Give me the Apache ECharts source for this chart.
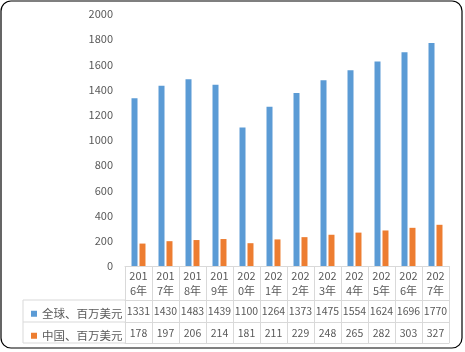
<!DOCTYPE html>
<html>
<head>
<meta charset="utf-8">
<script src="https://cdn.jsdelivr.net/npm/echarts@6/dist/echarts.min.js"></script>
<style>
  html, body { margin: 0; padding: 0; background: #fff; }
  #main { width: 465px; height: 352px; }
</style>
</head>
<body>
<div id="main"></div>
<script>
var years = ['2016年', '2017年', '2018年', '2019年', '2020年', '2021年',
             '2022年', '2023年', '2024年', '2025年', '2026年', '2027年'];
var globalName = '全球、百万美元';
var chinaName = '中国、百万美元';
var globalVals = [1331, 1430, 1483, 1439, 1100, 1264, 1373, 1475, 1554, 1624, 1696, 1770];
var chinaVals = [178, 197, 206, 214, 181, 211, 229, 248, 265, 282, 303, 327];
var yTicks = { min: 0, max: 2000, step: 200 };

// layout
var W = 465, H = 352;
var gLeft = 125, gRight = 449, gTop = 14, gBottom = 266;
var row1 = 300, row2 = 322, row3 = 343, cellLeft = 23;
var lineCol = '#d9d9d9', txtCol = '#595959';
var font = '"Noto Sans CJK SC", "Liberation Sans", sans-serif';

// 表头 "201\n6年"
var yearLabels = years.map(function (y) { return y.slice(0, 3) + '\n' + y.slice(3); });

function tableAxis(data, offset, tickLen, showLabel) {
    return {
        type: 'category',
        data: data,
        position: 'bottom',
        offset: offset,
        axisLine: { show: true, lineStyle: { color: lineCol, width: 1 } },
        axisTick: { show: tickLen > 0, length: tickLen, interval: 0, lineStyle: { color: lineCol } },
        axisLabel: {
            show: showLabel, interval: 0, margin: 4, color: txtCol,
            fontSize: 10.5, fontFamily: font, lineHeight: 14
        },
        splitLine: { show: false }
    };
}

function rowLegend(name, top) {
    return {
        data: [name], left: 26, top: top, orient: 'vertical',
        icon: 'rect', itemWidth: 6, itemHeight: 6, itemGap: 0, selectedMode: false,
        textStyle: { color: txtCol, fontSize: 11.5, fontFamily: font }
    };
}

var myChart = echarts.init(document.getElementById('main'), null, { renderer: 'canvas' });

var xAxes = [];
var ax0 = tableAxis(yearLabels, 0, row1 - gBottom, true);
ax0.axisLabel.margin = 2;
ax0.axisLabel.lineHeight = 15;
ax0.axisLabel.fontSize = 11;
xAxes.push(ax0);
xAxes.push(tableAxis(globalVals.map(String), row1 - gBottom, row2 - row1, true));
xAxes.push(tableAxis(chinaVals.map(String), row2 - gBottom, row3 - row2, true));
xAxes.push(tableAxis(years, row3 - gBottom, 0, false));

var option = {
    animation: false,
    backgroundColor: '#fff',
    textStyle: { fontFamily: font },
    grid: { left: gLeft, right: W - gRight, top: gTop, bottom: H - gBottom, containLabel: false },
    legend: [rowLegend(globalName, row1 + 3), rowLegend(chinaName, row2 + 3)],
    xAxis: xAxes,
    yAxis: {
        type: 'value',
        min: yTicks.min, max: yTicks.max, interval: yTicks.step,
        axisLine: { show: false },
        axisTick: { show: false },
        splitLine: { show: false },
        axisLabel: {
            color: txtCol, fontSize: 11, margin: 12, fontFamily: font,
            formatter: function (v) { return String(v); }
        }
    },
    series: [
        {
            name: globalName, type: 'bar', data: globalVals,
            barWidth: 6, barGap: '33%',
            itemStyle: { color: '#5b9bd5' }
        },
        {
            name: chinaName, type: 'bar', data: chinaVals,
            barWidth: 6, barGap: '33%',
            itemStyle: { color: '#ed7d31' }
        }
    ],
    graphic: [
        // 表格左侧
        { type: 'line', shape: { x1: cellLeft, y1: row1, x2: gLeft, y2: row1 }, style: { stroke: lineCol, lineWidth: 1 } },
        { type: 'line', shape: { x1: cellLeft, y1: row2, x2: gLeft, y2: row2 }, style: { stroke: lineCol, lineWidth: 1 } },
        { type: 'line', shape: { x1: cellLeft, y1: row3, x2: gLeft, y2: row3 }, style: { stroke: lineCol, lineWidth: 1 } },
        { type: 'line', shape: { x1: cellLeft, y1: row1, x2: cellLeft, y2: row3 }, style: { stroke: lineCol, lineWidth: 1 } },
        // 外框
        {
            type: 'rect', shape: { x: 1, y: 1, width: 461, height: 347, r: 10 },
            style: { fill: null, stroke: '#000', lineWidth: 1.2 }, z: 100
        }
    ]
};

myChart.setOption(option);
</script>
</body>
</html>
